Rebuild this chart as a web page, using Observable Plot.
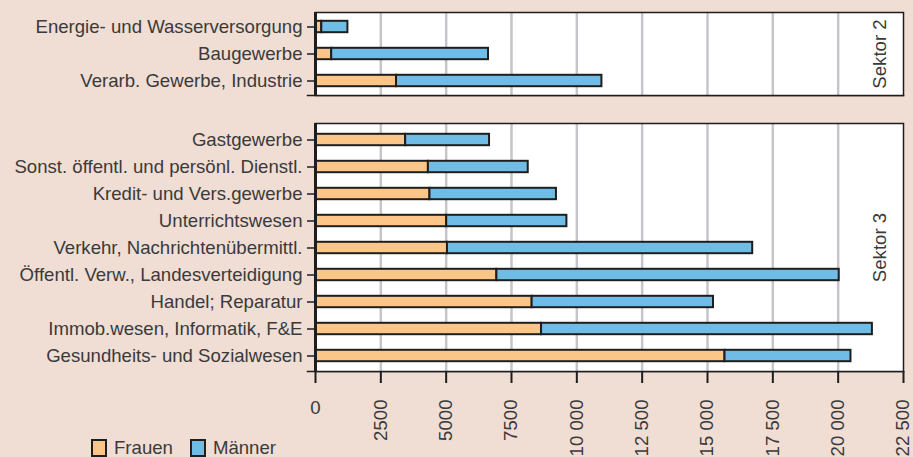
<!DOCTYPE html>
<html>
<head>
<meta charset="utf-8">
<script src="https://cdn.jsdelivr.net/npm/d3@7"></script>
<script src="https://cdn.jsdelivr.net/npm/@observablehq/plot@0.6"></script>
<style>
  html, body { margin: 0; padding: 0; background: #f0ddd4; }
  #chart { position: relative; width: 913px; height: 457px; overflow: hidden; background: #f0ddd4;
           font-family: "Liberation Sans", Arial, sans-serif; color: #3a3a3a; }
  #chart svg { display: block; overflow: visible; }
  #legend { position: absolute; left: 91px; top: 438px; display: flex; align-items: center; font-size: 18.6px; line-height: 20px; }
  .sw { display: inline-block; width: 12px; height: 14px; border: 2px solid #1e1e1e; margin-right: 7px; }
  .item { display: flex; align-items: center; margin-right: 17px; }
</style>
</head>
<body>
<div id="chart">
  <div id="top"></div>
  <div id="bottom"></div>
  <div id="legend"></div>
</div>
<script>
// ---- data ----
const series = ["Frauen", "Männer"];
const seriesColors = ["#fdc689", "#6fbce6"];

const sektor2Label = "Sektor 2";
const sektor2 = ["Energie- und Wasserversorgung", "Baugewerbe", "Verarb. Gewerbe, Industrie"];
const frauen2 = [240, 620, 3100];
const maenner2 = [1000, 6000, 7860];

const sektor3Label = "Sektor 3";
const sektor3 = ["Gastgewerbe", "Sonst. öffentl. und persönl. Dienstl.", "Kredit- und Vers.gewerbe",
  "Unterrichtswesen", "Verkehr, Nachrichtenübermittl.", "Öffentl. Verw., Landesverteidigung",
  "Handel; Reparatur", "Immob.wesen, Informatik, F&E", "Gesundheits- und Sozialwesen"];
const frauen3 = [3450, 4320, 4380, 5020, 5050, 6940, 8290, 8650, 15670];
const maenner3 = [3210, 3820, 4840, 4600, 11680, 13100, 6940, 12660, 4820];

const xTicks = [0, 2500, 5000, 7500, 10000, 12500, 15000, 17500, 20000, 22500];
const xDomain = [0, 22500];

// ---- styling ----
const dark = "#1e1e1e";
const gridColor = "#c6c5ca";
const textColor = "#3a3a3a";
const fs = 18.6;
const fmt = d => d >= 10000 ? Math.floor(d / 1000) + " " + String(d % 1000).padStart(3, "0") : String(d);

function panel(cats, fr, ma, label, {height, marginTop, marginBottom, axis}) {
  const rows = cats.flatMap((c, i) => [
    {cat: c, series: series[0], value: fr[i]},
    {cat: c, series: series[1], value: ma[i]}
  ]);
  const marks = [
    Plot.tickY(cats, {y: d => d, insetLeft: -8, stroke: dark, strokeWidth: 1.5}),
    Plot.frame({anchor: "bottom", insetLeft: -8, stroke: dark, strokeWidth: 1.5}),
    Plot.frame({fill: "white", stroke: null}),
    Plot.ruleX(xTicks.filter(d => d > xDomain[0] && d < xDomain[1]), {stroke: gridColor, strokeWidth: 2.5}),
    Plot.barX(rows, Plot.stackX({x: "value", y: "cat", fill: "series", stroke: dark, strokeWidth: 2,
      insetTop: 7.8, insetBottom: 7.8})),
    Plot.frame({stroke: dark, strokeWidth: 1.5}),
    Plot.ruleX([0], {stroke: dark, strokeWidth: 3}),
    Plot.axisY({tickSize: 0, tickPadding: 13, label: null, fill: textColor, fontSize: fs}),
    Plot.text([label], {text: d => d, frameAnchor: "right", textAnchor: "middle", lineAnchor: "middle",
      rotate: -90, dx: -23, fill: textColor, fontSize: fs})
  ];
  if (axis) {
    marks.push(
      Plot.axisX(xTicks.filter(d => d > 0), {anchor: "bottom", tickSize: 12, tickPadding: 16, tickRotate: -90,
        tickFormat: fmt, stroke: dark, strokeWidth: 2, fill: textColor, fontSize: fs, label: null}),
      Plot.axisX([0], {anchor: "bottom", tickSize: 12, tickPadding: 17,
        tickFormat: fmt, stroke: dark, strokeWidth: 2, fill: textColor, fontSize: fs, label: null})
    );
  }
  return Plot.plot({
    width: 913, height, marginLeft: 315, marginRight: 10, marginTop, marginBottom,
    style: {background: "transparent", fontFamily: "'Liberation Sans', Arial, sans-serif", fontSize: fs + "px", color: textColor, overflow: "visible"},
    x: {domain: xDomain, axis: null, label: null},
    y: {domain: cats, padding: 0, axis: null, label: null},
    color: {domain: series, range: seriesColors},
    marks
  });
}

document.getElementById("top").append(panel(sektor2, frauen2, maenner2, sektor2Label,
  {height: 108, marginTop: 12, marginBottom: 13, axis: false}));
document.getElementById("bottom").append(panel(sektor3, frauen3, maenner3, sektor3Label,
  {height: 349, marginTop: 15, marginBottom: 86, axis: true}));

const legend = document.getElementById("legend");
series.forEach((s, i) => {
  const item = document.createElement("span");
  item.className = "item";
  const sw = document.createElement("span");
  sw.className = "sw";
  sw.style.background = seriesColors[i];
  item.append(sw, document.createTextNode(s));
  legend.append(item);
});
</script>
</body>
</html>
